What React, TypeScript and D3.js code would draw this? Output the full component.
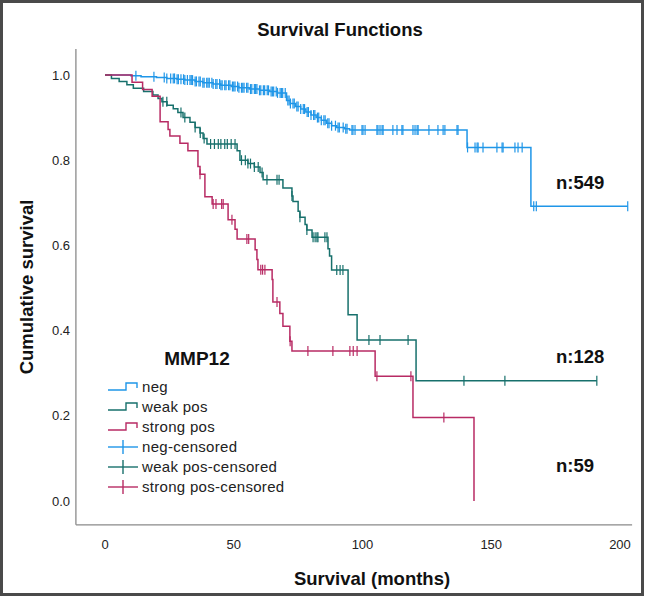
import React from 'react';
import * as d3 from 'd3';

// ---------- data ----------
const xTicks = [0, 50, 100, 150, 200];
const yTicks = [0, 0.2, 0.4, 0.6, 0.8, 1.0];
const groupNames = ['neg', 'weak pos', 'strong pos'];
const groupN = [549, 128, 59];

const negTimes = [0, 10, 14, 20, 24, 28, 31, 35, 38, 42, 45, 49, 52, 56, 60, 64, 67, 70.5, 72, 74, 76, 78, 80, 82, 84, 86, 88, 90, 93, 95, 140.6, 165.4];
const negSurv = [1.0, 0.998, 0.996, 0.994, 0.992, 0.99, 0.988, 0.985, 0.982, 0.979, 0.976, 0.973, 0.97, 0.967, 0.964, 0.961, 0.958, 0.94, 0.933, 0.926, 0.92, 0.913, 0.906, 0.9, 0.894, 0.887, 0.881, 0.877, 0.874, 0.871, 0.83, 0.692];
const negEnd = 203;
const negCensor = [12, 19, 23, 24, 25.5, 26.5, 27, 28, 28.5, 29.5, 30.5, 31, 32, 33, 33.5, 34, 35, 35.5, 36.5, 37, 38, 38.5, 39.5, 40, 40.5, 41.5, 42, 43, 43.5, 44.5, 45, 45.5, 46.5, 47, 48, 48.5, 49.5, 50, 50.5, 51.5, 52, 53, 53.5, 54, 55, 55.5, 56.5, 57, 58, 58.5, 59, 60, 60.5, 61.5, 62, 63, 63.5, 64.5, 65, 65.5, 66.5, 67, 68, 68.5, 69, 70, 71, 71.5, 72, 73, 73.5, 74.5, 75, 76, 77, 77.5, 78.5, 79, 80, 81, 81.5, 82.5, 83, 84, 85, 85.5, 86.5, 87, 88, 89.5, 90.5, 91, 92.5, 93.5, 94, 95.9, 96.3, 97.1, 99.8, 100.2, 101, 105.6, 106, 106.8, 107.6, 108, 111.8, 113.4, 115.3, 115.7, 119.6, 120.4, 121.2, 121.6, 125.8, 129.3, 131.3, 132, 136.7, 137.1, 140.8, 143.7, 144.5, 144.9, 146.8, 152.2, 154.2, 154.6, 159.2, 160.4, 162, 166.5, 167.5, 203];

const weakTimes = [0, 2.5, 5.5, 8.5, 11, 15, 18.6, 20.6, 22.1, 24.1, 26.5, 28.3, 30.3, 33, 35, 36.9, 38.1, 39.6, 51.3, 52.4, 55.5, 58, 60.2, 61.4, 69.1, 72.6, 73, 75, 75.7, 77.7, 78.4, 80.4, 86.6, 87.2, 88, 94.4, 97.9, 120.8];
const weakSurv = [1.0, 0.992, 0.985, 0.977, 0.969, 0.961, 0.953, 0.945, 0.937, 0.929, 0.921, 0.912, 0.9, 0.889, 0.877, 0.864, 0.851, 0.838, 0.822, 0.8, 0.792, 0.784, 0.771, 0.754, 0.735, 0.716, 0.703, 0.68, 0.666, 0.649, 0.636, 0.619, 0.592, 0.575, 0.542, 0.437, 0.378, 0.282];
const weakEnd = 191;
const weakCensor = [22.5, 24, 29.5, 31, 35, 37, 38.5, 41, 42.5, 44, 45, 46.5, 47.5, 49, 50.5, 53, 54.5, 55.5, 56.5, 58, 59.5, 61, 62.9, 66.8, 67.6, 72.6, 75.7, 78.4, 80.8, 81.6, 82.3, 82.7, 85.4, 86.2, 90, 91.3, 92.4, 102.5, 106.8, 117.7, 139.4, 155.3, 191];

const strongTimes = [0, 10.5, 14.6, 18.3, 21.4, 24.5, 25.2, 29.1, 32.2, 36.1, 36.9, 38.8, 41.6, 47.8, 50.5, 51.3, 58.3, 59, 59.4, 64.9, 65.2, 67.9, 69.1, 71.8, 72.6, 104.9, 119.6, 143.3];
const strongSurv = [1.0, 0.983, 0.966, 0.95, 0.89, 0.872, 0.857, 0.84, 0.822, 0.785, 0.767, 0.714, 0.697, 0.66, 0.638, 0.615, 0.59, 0.567, 0.543, 0.52, 0.467, 0.44, 0.41, 0.375, 0.352, 0.293, 0.196, 0.0];
const strongEnd = 143.3;
const strongCensor = [36.9, 42, 43.1, 45.3, 45.9, 49.3, 55.1, 55.8, 60.5, 61.2, 62.1, 66.8, 71.9, 78.8, 88.5, 95.1, 96.4, 97.9, 105.6, 118.8, 131.6];

const seriesColors = ['#1f96e8', '#17706c', '#b82b64'];

// ---------- layout ----------
const W = 645;
const H = 597;
const FONT = '"Liberation Sans", Arial, Helvetica, sans-serif';

const x = d3.scaleLinear().domain([0, 200]).range([105, 620]);
const y = d3.scaleLinear().domain([0, 1]).range([501, 75]);
const xAxisExtent = [-11.3, 204.7];
const yAxisExtent = [-0.056, 1.061];

function survAt(times: number[], surv: number[], t: number) {
  let v = surv[0];
  for (let i = 0; i < times.length; i++) {
    if (times[i] <= t) v = surv[i];
  }
  return v;
}

const stepLine = d3
  .line<[number, number]>()
  .x((d) => x(d[0]))
  .y((d) => y(d[1]))
  .curve(d3.curveStepAfter);

export default function App() {
  const series = [
    { times: negTimes, surv: negSurv, end: negEnd, censor: negCensor },
    { times: weakTimes, surv: weakSurv, end: weakEnd, censor: weakCensor },
    { times: strongTimes, surv: strongSurv, end: strongEnd, censor: strongCensor },
  ];
  const fmt = d3.format('.1f');

  const legendRows = [
    ...groupNames.map((n, i) => ({ label: n, color: seriesColors[i], kind: 'line' })),
    ...groupNames.map((n, i) => ({ label: n + '-censored', color: seriesColors[i], kind: 'cens' })),
  ];
  const nLabelY = [189, 363, 472];

  return (
    <svg
      width={W}
      height={H}
      style={{ position: 'absolute', left: 0, top: 0, background: '#fff' }}
      fontFamily={FONT}
    >
      <rect x={0} y={0} width={W} height={H} fill="#fff" />
      <rect x={1.5} y={1.5} width={W - 4} height={H - 4} fill="none" stroke="#4a4a4a" strokeWidth={3} />

      <text x={340} y={36} textAnchor="middle" fontSize={18.5} fontWeight="bold" fill="#111">
        Survival Functions
      </text>

      {/* axes */}
      <line x1={x(xAxisExtent[0])} x2={x(xAxisExtent[0])} y1={y(yAxisExtent[1])} y2={y(yAxisExtent[0])} stroke="#8a8a8a" strokeWidth={1.3} />
      <line x1={x(xAxisExtent[0])} x2={x(xAxisExtent[1])} y1={y(yAxisExtent[0])} y2={y(yAxisExtent[0])} stroke="#8a8a8a" strokeWidth={1.3} />

      {yTicks.map((t) => (
        <text key={'y' + t} x={70} y={y(t) + 4.5} textAnchor="end" fontSize={13} fill="#222">
          {fmt(t)}
        </text>
      ))}
      {xTicks.map((t) => (
        <text key={'x' + t} x={x(t)} y={549} textAnchor="middle" fontSize={13} fill="#222">
          {t}
        </text>
      ))}

      <text x={372} y={585} textAnchor="middle" fontSize={18.5} fontWeight="bold" fill="#111">
        Survival (months)
      </text>
      <text transform={`translate(33,${(y(yAxisExtent[0]) + y(yAxisExtent[1])) / 2}) rotate(-90)`} textAnchor="middle" fontSize={18.5} fontWeight="bold" fill="#111">
        Cumulative survival
      </text>

      {/* curves */}
      {series.map((s, i) => {
        const pts: [number, number][] = s.times.map((t, k) => [t, s.surv[k]] as [number, number]);
        pts.push([s.end, s.surv[s.surv.length - 1]]);
        return (
          <g key={'s' + i}>
            <path d={stepLine(pts) || ''} fill="none" stroke={seriesColors[i]} strokeWidth={1.5} />
            {s.censor.map((c, k) => {
              const v = survAt(s.times, s.surv, c);
              return (
                <line key={k} x1={x(c)} x2={x(c)} y1={y(v) - 5} y2={y(v) + 5} stroke={seriesColors[i]} strokeWidth={1.2} />
              );
            })}
          </g>
        );
      })}

      {/* n labels */}
      {groupN.map((n, i) => (
        <text key={'n' + i} x={556} y={nLabelY[i]} fontSize={18.5} fontWeight="bold" fill="#111">
          {'n:' + n}
        </text>
      ))}

      {/* legend */}
      <text x={197} y={365} textAnchor="middle" fontSize={19} fontWeight="bold" fill="#111">
        MMP12
      </text>
      {legendRows.map((r, i) => {
        const cy = 387 + i * 20;
        return (
          <g key={'l' + i}>
            {r.kind === 'line' ? (
              <path
                d={`M108,${cy + 3}H126V${cy - 4}H137V${cy + 1}`}
                fill="none"
                stroke={r.color}
                strokeWidth={1.4}
              />
            ) : (
              <g>
                <line x1={108} x2={138} y1={cy} y2={cy} stroke={r.color} strokeWidth={1.4} />
                <line x1={123} x2={123} y1={cy - 7} y2={cy + 7} stroke={r.color} strokeWidth={1.4} />
              </g>
            )}
            <text x={142} y={cy + 5} fontSize={15} letterSpacing={0.3} fill="#222">
              {r.label}
            </text>
          </g>
        );
      })}
    </svg>
  );
}
